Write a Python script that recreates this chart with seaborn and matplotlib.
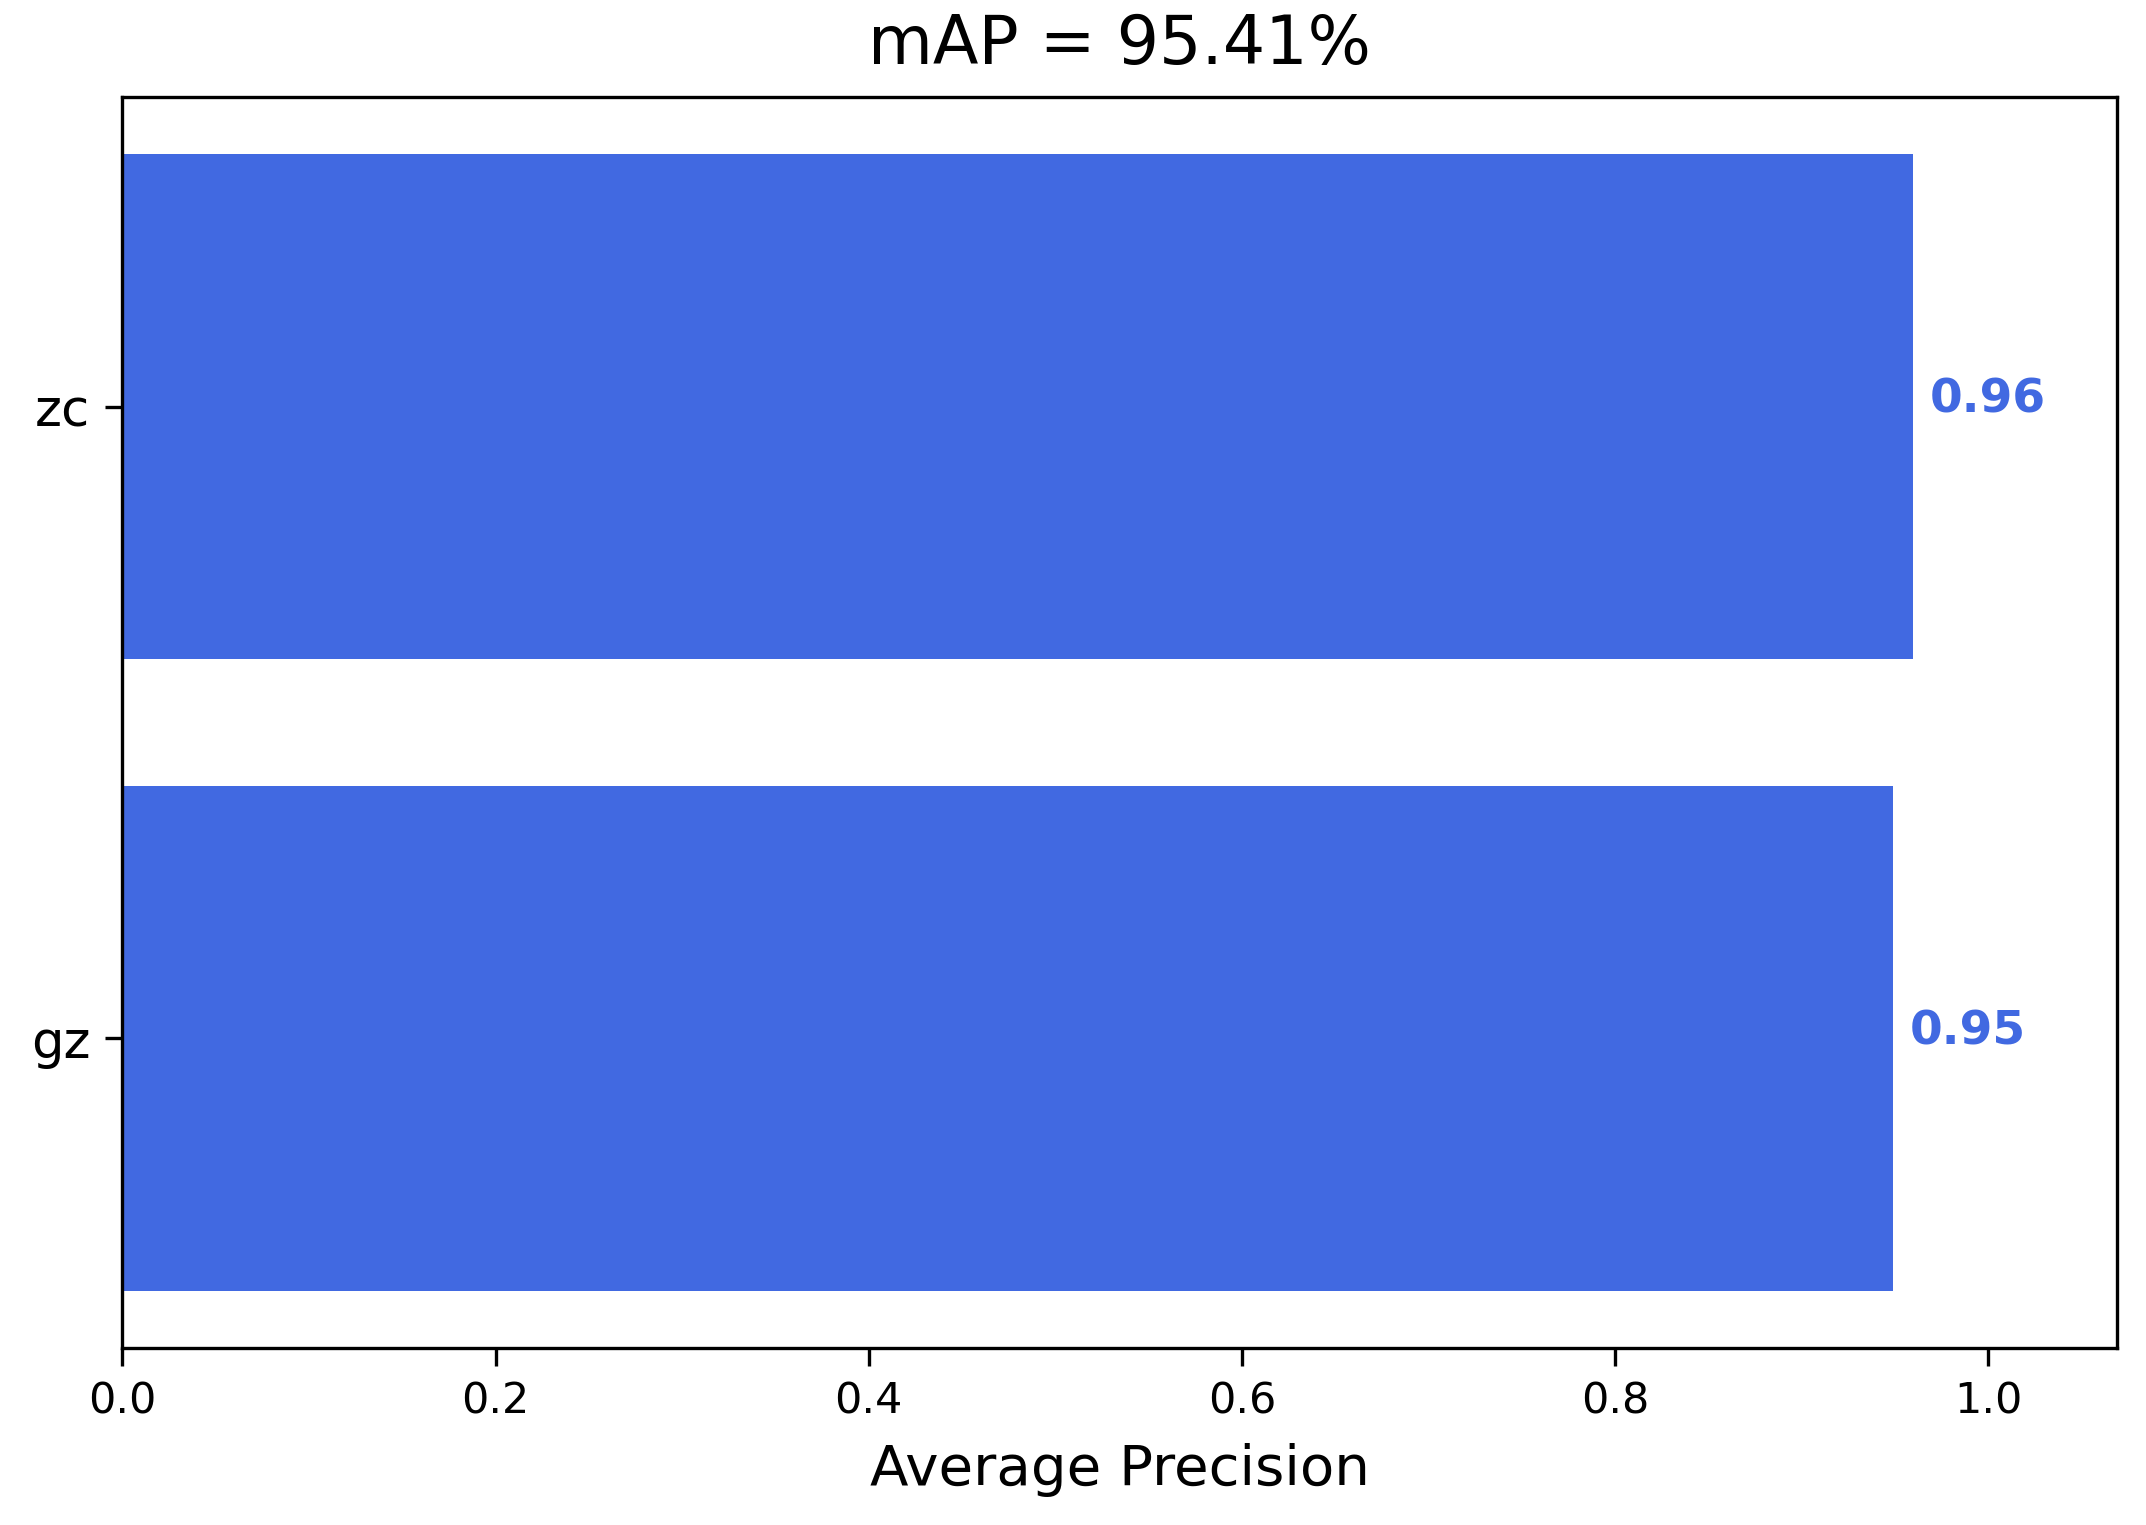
import matplotlib
matplotlib.use("Agg")
import matplotlib.pyplot as plt
import seaborn as sns

# Per-class average precision (top to bottom)
classes = ["zc", "gz"]
ap_values = [0.9595, 0.9487]
map_value = sum(ap_values) / len(ap_values)

bar_color = "royalblue"

fig, ax = plt.subplots(figsize=(2146 / 300, 1525 / 300), dpi=300)
fig.subplots_adjust(left=0.057, right=0.9865, top=0.9364, bottom=0.116)

sns.barplot(x=ap_values, y=classes, orient="h", color=bar_color,
            saturation=1, width=0.8, ax=ax)

# value labels next to each bar
for i, v in enumerate(ap_values):
    ax.text(v + 0.009, i - 0.01, f"{v:.2f}", va="center", ha="left",
            color=bar_color, fontweight="bold", fontsize=11.3)

ax.set_xlim(0, 1.069)
ax.set_ylim(len(classes) - 0.51, -0.49)
ax.set_xlabel("Average Precision", fontsize=13.5, labelpad=5)
ax.set_ylabel("")
ax.set_title(f"mAP = {map_value * 100:.2f}%", fontsize=16, pad=8)
ax.tick_params(axis="x", labelsize=10.3, length=4.2)
ax.tick_params(axis="y", labelsize=12.3, length=4.2)

plt.savefig("out.png", dpi=300)
plt.close()
